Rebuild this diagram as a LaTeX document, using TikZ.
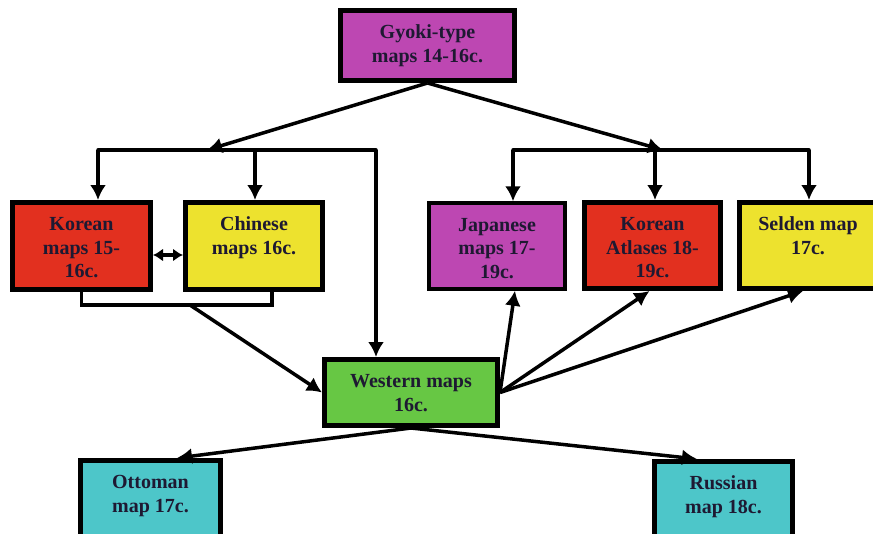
\documentclass[tikz,border=0pt]{standalone}
\usepackage{fontspec}
\setmainfont{Liberation Serif}
\usetikzlibrary{arrows.meta}
\definecolor{cmag}{RGB}{189,71,178}
\definecolor{cred}{RGB}{226,48,31}
\definecolor{cyel}{RGB}{237,226,46}
\definecolor{cgrn}{RGB}{103,199,68}
\definecolor{ccyn}{RGB}{77,198,201}
\definecolor{ctext}{RGB}{30,25,50}
\newcommand{\mbtext}[3]{\parbox[c][#2][t]{#1}{\centering\vspace*{12pt}\strut #3}}
\tikzset{
  mapbox/.style={draw=black, line width=5pt, rectangle, inner sep=0pt, text=ctext,
    font=\fontsize{20}{23.5}\selectfont\bfseries},
  conn/.style={line width=3.5pt, draw=black},
  arr/.style={conn, -{Latex[length=15pt,width=16pt]}},
  dblarr/.style={conn, {Latex[length=10pt,width=13pt]}-{Latex[length=10pt,width=13pt]}},
}
\begin{document}
\begin{tikzpicture}[x=1pt,y=-1pt]
\useasboundingbox (0,0) rectangle (873,533);
\clip (0,0) rectangle (873,533);
% nodes
\node[mapbox, fill=cmag] (G) at (427.5,45.5) {\mbtext{174pt}{70pt}{Gyoki-type\\maps 14-16c.}};
\node[mapbox, fill=cred] (K) at (81.5,246) {\mbtext{138pt}{87pt}{Korean\\maps 15-\\16c.}};
\node[mapbox, fill=cyel] (C) at (254,246) {\mbtext{137pt}{87pt}{Chinese\\maps 16c.}};
\node[mapbox, fill=cmag, line width=3.5pt] (J) at (497,246) {\mbtext{136pt}{86pt}{Japanese\\maps 17-\\19c.}};
\node[mapbox, fill=cred] (A) at (652.5,245.5) {\mbtext{136pt}{86pt}{Korean\\Atlases 18-\\19c.}};
\node[mapbox, fill=cyel] (S) at (808,245.5) {\mbtext{137pt}{86pt}{Selden map\\17c.}};
\node[mapbox, fill=cgrn] (W) at (411,392.5) {\mbtext{173pt}{66pt}{Western maps\\16c.}};
\node[mapbox, fill=ccyn] (O) at (150.5,504) {\mbtext{140pt}{87pt}{Ottoman\\map 17c.}};
\node[mapbox, fill=ccyn] (R) at (723.5,504.5) {\mbtext{138pt}{86pt}{Russian\\map 18c.}};
% bracket coordinates
\coordinate (lbL) at (98,150);
\coordinate (lbC) at (255,150);
\coordinate (lbR) at (376,150);
\coordinate (gl) at (207,150);
\coordinate (rbL) at (513,150);
\coordinate (rbC) at (655,150);
\coordinate (rbR) at (809,150);
\coordinate (gr) at (663,150);
\coordinate (lbb) at (190,305);
% top arrows
\draw[arr] (G.south) -- (gl);
\draw[arr] (G.south) -- (gr);
% left bracket
\draw[conn, line cap=round] (lbL) -- (lbR);
\draw[arr] (lbL) -- (lbL |- K.north);
\draw[arr] (lbC) -- (lbC |- C.north);
\draw[arr] (lbR) -- (lbR |- W.north);
% right bracket
\draw[conn, line cap=round] (rbL) -- (rbR);
\draw[arr] (rbL) -- (rbL |- J.north);
\draw[arr] (rbC) -- (rbC |- A.north);
\draw[arr] (rbR) -- (rbR |- S.north);
% double arrow
\draw[dblarr] ([yshift=-9pt]K.east) -- ([yshift=-9pt]C.west);
% bottom bracket
\draw[conn] (K.south) -- (K.south |- lbb) -| ([xshift=18pt]C.south);
\draw[arr] (lbb) -- (W.west);
% western to right boxes
\draw[arr] (W.east) -- ([xshift=18pt]J.south);
\draw[arr] (W.east) -- ([xshift=-3pt]A.south);
\draw[arr] (W.east) -- ([xshift=-5pt]S.south);
% western to bottom
\draw[arr] (W.south) -- ([xshift=26.5pt]O.north);
\draw[arr] (W.south) -- ([xshift=-26.5pt]R.north);
\end{tikzpicture}
\end{document}
